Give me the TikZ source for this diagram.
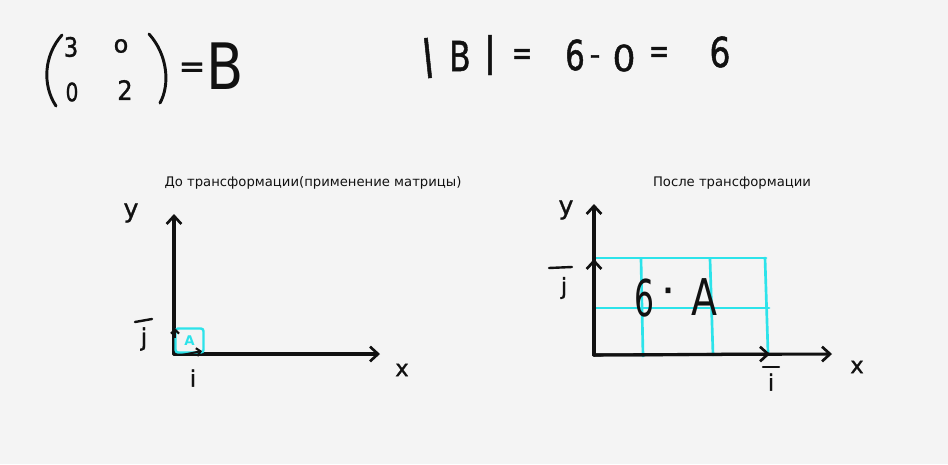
\documentclass[tikz,border=0pt]{standalone}
\usepackage{fontspec}
\setmainfont{DejaVu Sans}
\newfontfamily\semib[FakeBold=1.2]{DejaVu Sans}
\usetikzlibrary{arrows.meta}
\definecolor{bg}{HTML}{F4F4F4}
\definecolor{cy}{HTML}{2CE3EA}
\definecolor{ink}{HTML}{111111}
\begin{document}
\begin{tikzpicture}[x=0.75pt,y=-0.75pt,
  ax/.style={draw=ink,line width=2.3pt,line cap=round},
  tip/.style={-{Straight Barb[length=6pt,width=11pt,line width=2pt]}},
  small tip/.style={-{Straight Barb[length=3pt,width=6pt,line width=1.6pt]}},
  gridl/.style={draw=cy,line width=2pt,line cap=round},
  hand/.style={inner sep=0pt,text=ink},
  ttl/.style={inner sep=0pt,font=\fontsize{9.9pt}{11pt}\selectfont,text=ink},
  stroke/.style={draw=ink,line width=2.2pt,line cap=round}]
\fill[bg] (0,0) rectangle (948,464);
\useasboundingbox (0,0) rectangle (948,464);

% ---------- matrix ----------
\draw[stroke] (62,35) .. controls (44,55) and (42,85) .. (56,106);
\draw[stroke] (149,34) .. controls (168,55) and (170,85) .. (160,103);
\node[hand,font=\semib\fontsize{20pt}{20pt}\selectfont,xscale=0.85] (m11) at (71,47) {3};
\node[hand,font=\semib\fontsize{18pt}{18pt}\selectfont] (m12) at (121,46) {o};
\node[hand,font=\semib\fontsize{19pt}{19pt}\selectfont,xscale=0.8] (m21) at (72,92) {0};
\node[hand,font=\semib\fontsize{20pt}{20pt}\selectfont,xscale=0.9] (m22) at (125,90) {2};
\node[hand,font=\semib\fontsize{24pt}{24pt}\selectfont] (eq0) at (192,70) {=};
\node[hand,font=\fontsize{48pt}{48pt}\selectfont,xscale=0.85] (B0) at (225,66) {B};

% ---------- determinant ----------
\node[hand,font=\semib\fontsize{30pt}{30pt}\selectfont,rotate=6] (bar1) at (428,58) {|};
\node[hand,font=\semib\fontsize{31pt}{31pt}\selectfont,xscale=0.75] (B1) at (460,56) {B};
\node[hand,font=\semib\fontsize{30pt}{30pt}\selectfont] (bar2) at (490,55) {|};
\node[hand,font=\semib\fontsize{26pt}{26pt}\selectfont,xscale=0.7] (eq1) at (522,57) {=};
\node[hand,font=\semib\fontsize{31pt}{31pt}\selectfont,xscale=0.75] (six1) at (575,55) {6};
\node[hand,font=\semib\fontsize{22pt}{22pt}\selectfont] (minus) at (595,60) {-};
\node[hand,font=\semib\fontsize{27pt}{27pt}\selectfont] (zero) at (624,58) {0};
\node[hand,font=\semib\fontsize{26pt}{26pt}\selectfont,xscale=0.7] (eq2) at (659,55) {=};
\node[hand,font=\semib\fontsize{31pt}{31pt}\selectfont,xscale=0.8] (six2) at (720,52) {6};

% ---------- titles ----------
\node[ttl] (t1) at (313,183) {До трансформации(применение матрицы)};
\node[ttl] (t2) at (732,183) {После трансформации};

% ---------- left graph ----------
\coordinate (o1) at (174,354);
\coordinate (y1) at (174,214);
\coordinate (x1) at (380,354);
\draw[ax,tip] (o1) -- (y1);
\draw[ax,tip] (o1) -- (x1);
\node[draw=cy,line width=1.8pt,rounded corners=2pt,minimum width=21pt,minimum height=18pt,inner sep=0pt,
      text=cy,font=\bfseries\fontsize{10pt}{10pt}\selectfont] (A) at (189.5,340.5) {A};
\coordinate (iv0) at (182,355);
\coordinate (iv1) at (202,351);
\draw[draw=ink,line width=1.5pt,small tip] (iv0) -- (iv1);
\coordinate (jv0) at (175,338);
\coordinate (jv1) at (175,328);
\draw[draw=ink,line width=1.5pt,small tip] (jv0) -- (jv1);
\node[hand,font=\semib\fontsize{19pt}{19pt}\selectfont] (ly) at (131,213) {y};
\node[hand,font=\semib\fontsize{17pt}{17pt}\selectfont] (lx) at (402,370) {x};
\node[hand,font=\semib\fontsize{17pt}{17pt}\selectfont] (li) at (193,378) {i};
\node[hand,font=\semib\fontsize{18pt}{18pt}\selectfont] (lj) at (144,339) {j};
\draw[stroke,line width=1.8pt] (135,322) -- (152,319);

% ---------- right graph ----------
\coordinate (o2) at (594,355);
\coordinate (y2) at (594,204);
\coordinate (x2) at (832,354);
% grid
\draw[gridl] (594,258) -- (766,258);
\draw[gridl] (594,308) -- (769,308);
\draw[gridl] (641,259) -- (643,356);
\draw[gridl] (710,259) -- (713,355);
\draw[gridl] (765,258) -- (768,353);
\draw[ax,tip] (o2) -- (y2);
\draw[ax,tip] (o2) -- (x2);
\coordinate (jt) at (594,259);
\coordinate (it) at (770,354);
\draw[ax,tip] (o2) -- (jt);
\draw[ax,tip] (o2) -- (it);
\node[hand,font=\fontsize{38pt}{38pt}\selectfont,xscale=0.62] (six3) at (644,298) {6};
\node[hand,font=\semib\fontsize{30pt}{30pt}\selectfont] (dot) at (668,296) {·};
\node[hand,font=\fontsize{38pt}{38pt}\selectfont,xscale=0.75] (A2) at (704,297) {A};
\node[hand,font=\semib\fontsize{19pt}{19pt}\selectfont] (ry) at (566,210) {y};
\node[hand,font=\semib\fontsize{17pt}{17pt}\selectfont] (rx) at (857,367) {x};
\node[hand,font=\semib\fontsize{17pt}{17pt}\selectfont] (rj) at (564,288) {j};
\draw[stroke,line width=1.8pt] (549,268) -- (572,267);
\node[hand,font=\semib\fontsize{17pt}{17pt}\selectfont] (ri) at (771,382) {i};
\draw[stroke,line width=1.8pt] (763,367) -- (779,367);
\end{tikzpicture}
\end{document}
